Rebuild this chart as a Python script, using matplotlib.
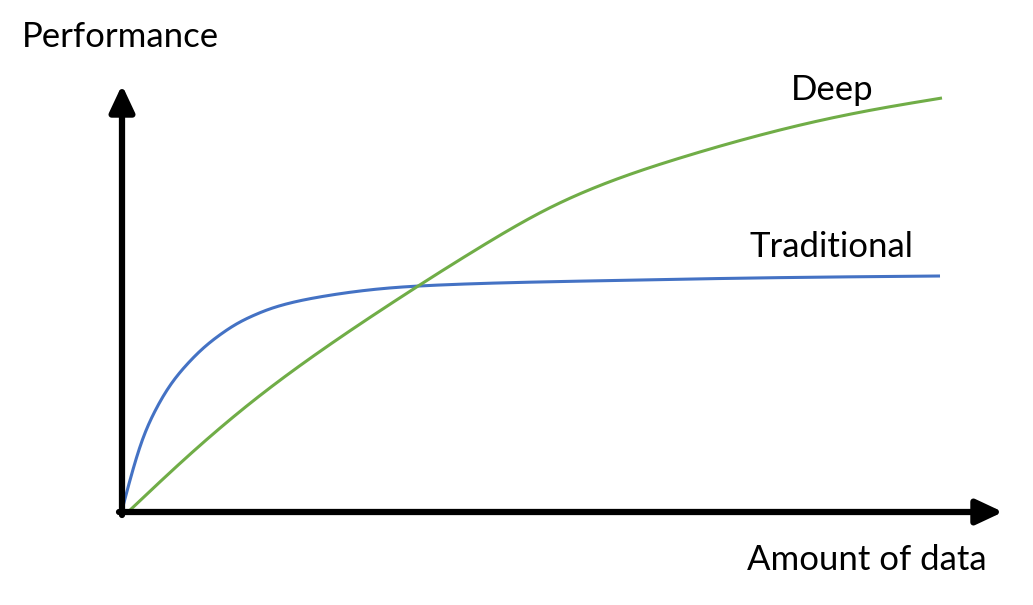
import numpy as np
import matplotlib
matplotlib.use('Agg')
import matplotlib.pyplot as plt

# curve samples (x: amount of data, y: performance, pixel-ish units)
trad_x = [0, 10, 20, 33, 48, 65, 81, 98, 115, 131, 148, 165, 198, 231, 265, 318, 465, 631, 818]
trad_y = [2, 39, 71, 100.9, 126.4, 147.6, 163.6, 177.2, 188.3, 196.3, 203.1, 208.2,
          215.1, 220.1, 223.8, 227, 231, 234, 236]

deep_x = [6, 65, 131, 198, 265, 358, 425, 491, 558, 625, 691, 758, 820]
deep_y = [0, 55, 111, 160.6, 205.8, 264.7, 302.8, 331.5, 354, 373.4, 389.9, 403.5, 414]

labels = {'Deep': (669, 412), 'Traditional': (628, 255)}
x_label = 'Amount of data'
y_label = 'Performance'


def spline(xs, ys, n=800):
    # natural cubic spline through the read points, just for a smooth stroke
    x = np.asarray(xs, float)
    y = np.asarray(ys, float)
    k = len(x)
    h = np.diff(x)
    A = np.zeros((k, k))
    r = np.zeros(k)
    A[0, 0] = A[-1, -1] = 1
    for i in range(1, k - 1):
        A[i, i - 1] = h[i - 1]
        A[i, i] = 2 * (h[i - 1] + h[i])
        A[i, i + 1] = h[i]
        r[i] = 6 * ((y[i + 1] - y[i]) / h[i] - (y[i] - y[i - 1]) / h[i - 1])
    M = np.linalg.solve(A, r)
    xx = np.linspace(x[0], x[-1], n)
    j = np.clip(np.searchsorted(x, xx) - 1, 0, k - 2)
    a = x[j + 1] - xx
    b = xx - x[j]
    hj = h[j]
    yy = (M[j] * a**3 / (6 * hj) + M[j + 1] * b**3 / (6 * hj)
          + (y[j] / hj - M[j] * hj / 6) * a + (y[j + 1] / hj - M[j + 1] * hj / 6) * b)
    return xx, yy


plt.rcParams['font.family'] = ['Lato', 'DejaVu Sans']

fig = plt.figure(figsize=(10.33, 6.05), dpi=100)
ax = fig.add_axes([0, 0, 1, 1])
ax.set_xlim(-122, 1033 - 122)
ax.set_ylim(512 - 605, 512)
ax.axis('off')

ax.plot(*spline(trad_x, trad_y), color='#4472C4', lw=2.2, solid_capstyle='butt', zorder=3)
ax.plot(*spline(deep_x, deep_y), color='#70AD47', lw=2.2, solid_capstyle='butt', zorder=3)

# axis arrows
arrow = dict(arrowstyle='-|>,head_length=1.6,head_width=0.75', color='black', lw=4.5,
             shrinkA=0, shrinkB=0)
ax.annotate('', xy=(0, 427), xytext=(0, -3), arrowprops=arrow, zorder=4)
ax.annotate('', xy=(881, 0), xytext=(-3, 0), arrowprops=arrow, zorder=4)

for name, (x, y) in labels.items():
    ax.text(x, y, name, fontsize=25, ha='left', va='baseline')
ax.text(-100, 465, y_label, fontsize=25, ha='left', va='baseline')
ax.text(625, -58, x_label, fontsize=25, ha='left', va='baseline')

fig.savefig('out.png', dpi=100)
